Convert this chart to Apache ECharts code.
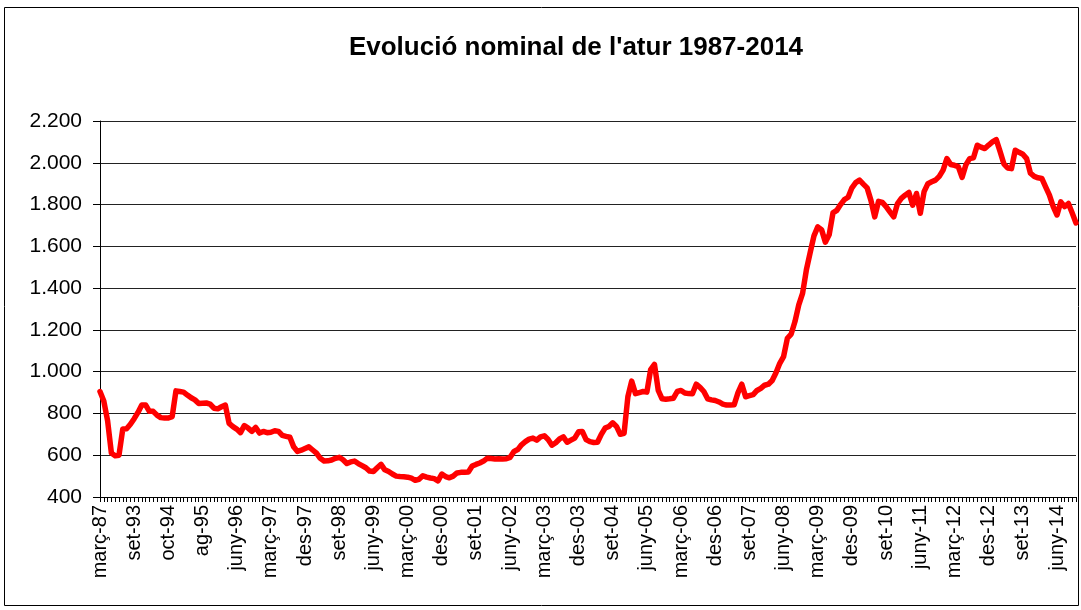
<!DOCTYPE html>
<html>
<head>
<meta charset="utf-8">
<title>Evolució nominal de l'atur 1987-2014</title>
<script src="https://cdn.jsdelivr.net/npm/echarts@6/dist/echarts.min.js"></script>
<style>
    html, body {margin: 0; padding: 0; background: #fff;}
    #chart {width: 1081px; height: 610px;}
</style>
</head>
<body>
<div id="chart"></div>
<script>
// primers punts (dades no mensuals fins a juny-96)
var earlyLabels = ["març-87", "març-88", "març-89", "març-90", "març-91", "març-92", "març-93", "maig-93", "jul-93",
    "set-93", "nov-93", "gen-94", "març-94", "abr-94", "maig-94", "juny-94", "jul-94", "set-94",
    "oct-94", "nov-94", "des-94", "gen-95", "febr-95", "març-95", "abr-95", "maig-95", "jul-95",
    "ag-95", "set-95", "oct-95", "nov-95", "des-95", "gen-96", "febr-96", "març-96", "maig-96"];
var monthNames = ["gen", "febr", "març", "abr", "maig", "juny", "jul", "ag", "set", "oct", "nov", "des"];

var aturValues = [
    905, 860, 765, 610, 597, 600, 726, 727, 748, 775,
    805, 840, 841, 810, 810, 792, 780, 778, 778, 785,
    908, 905, 902, 888, 875, 865, 848, 849, 850, 845,
    825, 822, 832, 840, 752, 737, 725, 708, 742, 730,
    714, 733, 706, 714, 708, 710, 717, 714, 695, 690,
    686, 640, 618, 624, 632, 640, 625, 610, 585, 572,
    573, 577, 585, 590, 578, 560, 568, 572, 560, 550,
    540, 524, 522, 540, 556, 530, 522, 510, 500, 498,
    497, 495, 490, 480, 485, 502, 495, 491, 488, 477,
    510, 498, 492, 500, 515, 518, 518, 520, 548, 556,
    563, 572, 586, 584, 582, 583, 582, 583, 590, 618,
    627, 650, 665, 677, 682, 672, 688, 693, 675, 648,
    660, 678, 688, 662, 672, 682, 712, 714, 675, 665,
    661, 662, 700, 730, 738, 755, 738, 700, 705, 880,
    955, 895, 900, 905, 902, 1010, 1035, 910, 870, 868,
    870, 873, 905, 910, 898, 895, 894, 940, 925, 905,
    870, 865, 862, 855, 845, 840, 841, 842, 900, 940,
    880, 885, 890, 910, 920, 935, 940, 958, 995, 1040,
    1072, 1160, 1180, 1240, 1320, 1375, 1487, 1570, 1650, 1693,
    1680, 1620, 1655, 1760, 1772, 1800, 1824, 1835, 1880, 1905,
    1917, 1898, 1880, 1820, 1741, 1815, 1810, 1790, 1765, 1741,
    1805, 1830, 1845, 1858, 1797, 1853, 1758, 1862, 1900, 1909,
    1917, 1935, 1965, 2020, 1992, 1988, 1982, 1930, 1990, 2020,
    2024, 2084, 2075, 2068, 2085, 2100, 2111, 2055, 1995, 1975,
    1972, 2060, 2050, 2041, 2020, 1950, 1935, 1928, 1925, 1885,
    1845, 1790, 1750, 1813, 1790, 1805, 1760, 1712
];

var yMin = 400;
var yMax = 2200;
var yStep = 200;

// etiquetes mensuals des de juny-96
var categories = earlyLabels.slice();
var m = 5, y = 96;
while (categories.length < aturValues.length) {
    categories.push(monthNames[m] + "-" + (y % 100 < 10 ? "0" : "") + (y % 100));
    m++;
    if (m == 12) {
        m = 0;
        y++;
    }
}

function formatThousands(v) {
    var s = String(v);
    if (s.length > 3) {
        s = s.slice(0, s.length - 3) + "." + s.slice(s.length - 3);
    }
    return s;
}

var fontFamily = "'Liberation Sans', Arial, sans-serif";
var myChart = echarts.init(document.getElementById("chart"), null, {renderer: "canvas"});
var option = {
    backgroundColor: "#ffffff",
    animation: false,
    title: {
        text: "Evolució nominal de l'atur 1987-2014",
        left: 571,
        top: 30,
        textAlign: "center",
        textStyle: {
            fontFamily: fontFamily,
            fontSize: 26,
            fontWeight: "bold",
            color: "#000"
        }
    },
    graphic: [{
        type: "rect",
        shape: {x: 4.5, y: 7.5, width: 1074, height: 598},
        style: {fill: null, stroke: "#000", lineWidth: 1},
        silent: true
    }],
    grid: {
        left: 100,
        right: 5,
        top: 121,
        bottom: 113,
        containLabel: false
    },
    xAxis: {
        type: "category",
        data: categories,
        boundaryGap: false,
        axisLine: {lineStyle: {color: "#000", width: 1}},
        axisTick: {show: true, interval: 0, length: 5, lineStyle: {color: "#000"}},
        axisLabel: {
            interval: 8,
            rotate: 90,
            margin: 8,
            fontFamily: fontFamily,
            fontSize: 20,
            color: "#000"
        },
        splitLine: {show: false}
    },
    yAxis: {
        type: "value",
        min: yMin,
        max: yMax,
        interval: yStep,
        axisLine: {show: true, lineStyle: {color: "#000", width: 1}},
        axisTick: {show: true, length: 7, lineStyle: {color: "#000"}},
        axisLabel: {
            margin: 18,
            fontFamily: fontFamily,
            fontSize: 21,
            color: "#000",
            formatter: formatThousands
        },
        splitLine: {show: true, lineStyle: {color: "#222", width: 1}}
    },
    series: [{
        type: "line",
        data: aturValues,
        showSymbol: false,
        symbol: "none",
        smooth: false,
        lineStyle: {color: "#ff0000", width: 5.5, join: "round", cap: "round"},
        itemStyle: {color: "#ff0000"}
    }]
};
myChart.setOption(option);
</script>
</body>
</html>
